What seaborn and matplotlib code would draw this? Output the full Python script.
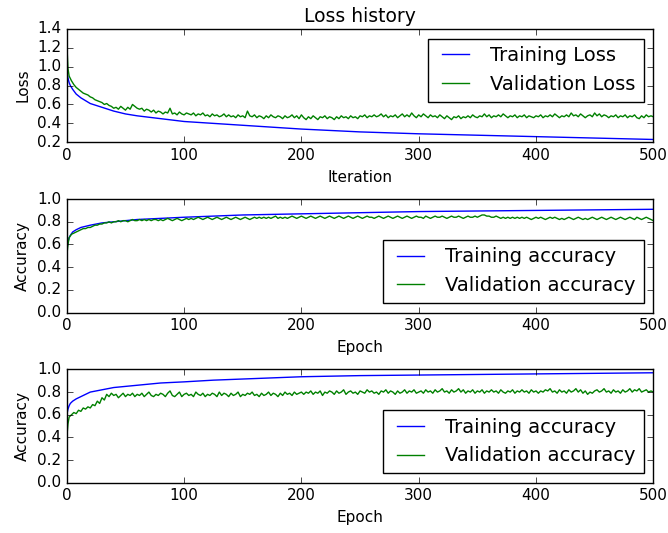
import matplotlib
matplotlib.use('Agg')
import matplotlib.pyplot as plt
import seaborn as sns

# epochs for the smooth training curves and for the noisy validation curves
epochs_train = [0, 1, 2, 3, 5, 8, 12, 16, 20, 25, 30, 40, 50, 60, 80, 100,
                125, 150, 175, 200, 250, 300, 350, 400, 450, 500]
epochs_val = [0, 1] + list(range(2, 501, 2))

train_loss = [0.95, 0.88, 0.83, 0.80, 0.76, 0.71, 0.67, 0.64, 0.61, 0.59,
              0.57, 0.53, 0.50, 0.48, 0.45, 0.42, 0.40, 0.38, 0.36, 0.34,
              0.31, 0.29, 0.275, 0.26, 0.245, 0.23]

val_loss = [1.25, 0.98,
            0.90, 0.85, 0.81, 0.78, 0.76, 0.74, 0.72, 0.71, 0.70, 0.68,
            0.67, 0.65, 0.64, 0.63, 0.62, 0.60, 0.61, 0.59, 0.58, 0.56,
            0.57, 0.55, 0.58, 0.56, 0.54, 0.57, 0.55, 0.60, 0.58, 0.56,
            0.55, 0.56, 0.53, 0.55, 0.54, 0.52, 0.54, 0.51, 0.53, 0.52,
            0.50, 0.52, 0.51, 0.56, 0.50, 0.51, 0.49, 0.52, 0.50, 0.49,

            0.51, 0.50, 0.49, 0.51, 0.48, 0.50, 0.49, 0.51, 0.48, 0.49,
            0.47, 0.50, 0.48, 0.49, 0.47, 0.48, 0.50, 0.47, 0.49, 0.47,
            0.48, 0.46, 0.49, 0.47, 0.48, 0.46, 0.53, 0.48, 0.47, 0.49,
            0.46, 0.48, 0.47, 0.45, 0.48, 0.46, 0.49, 0.47, 0.46, 0.48,
            0.47, 0.45, 0.48, 0.46, 0.47, 0.49, 0.46, 0.48, 0.45, 0.49,

            0.46, 0.44, 0.47, 0.45, 0.48, 0.46, 0.44, 0.47, 0.46, 0.48,
            0.45, 0.47, 0.46, 0.44, 0.47, 0.45, 0.48, 0.46, 0.47, 0.45,
            0.48, 0.46, 0.47, 0.45, 0.48, 0.47, 0.49, 0.46, 0.48, 0.47,
            0.49, 0.47, 0.48, 0.50, 0.47, 0.49, 0.46, 0.48, 0.47, 0.49,
            0.46, 0.48, 0.50, 0.47, 0.49, 0.47, 0.51, 0.48, 0.46, 0.49,

            0.47, 0.50, 0.48, 0.46, 0.49, 0.47, 0.48, 0.46, 0.49, 0.47,
            0.45, 0.48, 0.46, 0.44, 0.47, 0.46, 0.48, 0.45, 0.47, 0.46,
            0.48, 0.46, 0.49, 0.47, 0.46, 0.48, 0.47, 0.50, 0.47, 0.49,
            0.46, 0.48, 0.47, 0.49, 0.47, 0.50, 0.48, 0.46, 0.48, 0.47,
            0.49, 0.46, 0.48, 0.47, 0.49, 0.46, 0.48, 0.47, 0.46, 0.48,

            0.47, 0.49, 0.46, 0.48, 0.47, 0.49, 0.47, 0.50, 0.48, 0.46,
            0.48, 0.47, 0.49, 0.47, 0.51, 0.48, 0.49, 0.47, 0.50, 0.48,
            0.46, 0.48, 0.49, 0.47, 0.51, 0.48, 0.50, 0.47, 0.49, 0.48,
            0.46, 0.48, 0.47, 0.49, 0.46, 0.48, 0.47, 0.49, 0.46, 0.48,
            0.47, 0.49, 0.46, 0.45, 0.48, 0.46, 0.49, 0.47, 0.48, 0.47]

train_acc_1 = [0.55, 0.62, 0.66, 0.68, 0.71, 0.73, 0.75, 0.76, 0.77, 0.78,
               0.79, 0.80, 0.81, 0.82, 0.83, 0.84, 0.85, 0.86, 0.865, 0.87,
               0.88, 0.89, 0.895, 0.90, 0.905, 0.91]

val_acc_1 = [0.50, 0.60,
             0.66, 0.69, 0.70, 0.71, 0.72, 0.73, 0.74, 0.74, 0.75, 0.75,
             0.76, 0.77, 0.77, 0.78, 0.78, 0.79, 0.79, 0.80, 0.79, 0.80,
             0.80, 0.81, 0.80, 0.81, 0.81, 0.80, 0.81, 0.82, 0.81, 0.81,
             0.82, 0.81, 0.82, 0.81, 0.82, 0.81, 0.82, 0.82, 0.81, 0.82,
             0.81, 0.82, 0.83, 0.82, 0.81, 0.82, 0.83, 0.82, 0.81, 0.82,

             0.83, 0.82, 0.83, 0.82, 0.83, 0.84, 0.83, 0.82, 0.83, 0.84,
             0.83, 0.82, 0.83, 0.84, 0.83, 0.82, 0.83, 0.84, 0.83, 0.82,
             0.83, 0.84, 0.83, 0.82, 0.83, 0.84, 0.83, 0.82, 0.83, 0.84,
             0.83, 0.84, 0.83, 0.84, 0.83, 0.84, 0.83, 0.84, 0.85, 0.83,
             0.84, 0.83, 0.84, 0.83, 0.84, 0.85, 0.84, 0.83, 0.84, 0.85,

             0.84, 0.83, 0.84, 0.85, 0.84, 0.83, 0.84, 0.85, 0.84, 0.83,
             0.84, 0.85, 0.84, 0.83, 0.84, 0.85, 0.84, 0.83, 0.84, 0.85,
             0.84, 0.83, 0.84, 0.85, 0.84, 0.83, 0.84, 0.85, 0.84, 0.84,
             0.83, 0.84, 0.85, 0.84, 0.83, 0.84, 0.85, 0.84, 0.83, 0.84,
             0.85, 0.84, 0.83, 0.84, 0.85, 0.84, 0.83, 0.84, 0.85, 0.84,

             0.84, 0.83, 0.85, 0.84, 0.83, 0.84, 0.85, 0.84, 0.84, 0.85,
             0.84, 0.83, 0.84, 0.85, 0.84, 0.84, 0.85, 0.84, 0.83, 0.84,
             0.85, 0.84, 0.84, 0.85, 0.84, 0.85, 0.86, 0.86, 0.85, 0.85,
             0.84, 0.84, 0.85, 0.84, 0.83, 0.84, 0.83, 0.84, 0.83, 0.84,
             0.83, 0.84, 0.83, 0.84, 0.83, 0.84, 0.83, 0.82, 0.83, 0.84,

             0.83, 0.84, 0.83, 0.82, 0.83, 0.84, 0.83, 0.84, 0.83, 0.82,
             0.83, 0.82, 0.83, 0.84, 0.83, 0.82, 0.83, 0.84, 0.83, 0.82,
             0.83, 0.82, 0.83, 0.84, 0.83, 0.82, 0.83, 0.84, 0.83, 0.82,
             0.83, 0.84, 0.83, 0.82, 0.83, 0.84, 0.83, 0.82, 0.83, 0.84,
             0.83, 0.82, 0.84, 0.83, 0.82, 0.83, 0.84, 0.83, 0.82, 0.81]

train_acc_2 = [0.60, 0.65, 0.68, 0.70, 0.72, 0.74, 0.76, 0.78, 0.80, 0.81,
               0.82, 0.84, 0.85, 0.86, 0.88, 0.89, 0.905, 0.915, 0.925, 0.935,
               0.945, 0.95, 0.955, 0.96, 0.965, 0.97]

val_acc_2 = [0.40, 0.52,
             0.58, 0.60, 0.62, 0.61, 0.64, 0.63, 0.66, 0.65, 0.67, 0.66,
             0.69, 0.68, 0.72, 0.70, 0.75, 0.73, 0.78, 0.76, 0.79, 0.77,
             0.78, 0.75, 0.77, 0.79, 0.76, 0.78, 0.77, 0.79, 0.76, 0.78,
             0.77, 0.79, 0.76, 0.78, 0.80, 0.77, 0.76, 0.78, 0.77, 0.79,
             0.78, 0.76, 0.79, 0.81, 0.77, 0.76, 0.78, 0.80, 0.76, 0.78,

             0.79, 0.77, 0.78, 0.76, 0.80, 0.78, 0.77, 0.79, 0.76, 0.78,
             0.77, 0.79, 0.78, 0.76, 0.80, 0.77, 0.79, 0.78, 0.76, 0.79,
             0.77, 0.78, 0.80, 0.76, 0.78, 0.77, 0.79, 0.78, 0.80, 0.77,
             0.78, 0.76, 0.79, 0.77, 0.78, 0.80, 0.77, 0.79, 0.78, 0.76,
             0.79, 0.77, 0.80, 0.78, 0.79, 0.77, 0.80, 0.78, 0.79, 0.80,

             0.78, 0.80, 0.79, 0.81, 0.78, 0.80, 0.79, 0.81, 0.77, 0.80,
             0.79, 0.81, 0.80, 0.78, 0.81, 0.79, 0.80, 0.82, 0.78, 0.80,
             0.81, 0.79, 0.80, 0.78, 0.81, 0.80, 0.79, 0.82, 0.80, 0.81,
             0.79, 0.80, 0.78, 0.81, 0.80, 0.82, 0.79, 0.81, 0.80, 0.78,
             0.81, 0.79, 0.80, 0.82, 0.79, 0.81, 0.80, 0.82, 0.79, 0.80,

             0.81, 0.79, 0.82, 0.80, 0.81, 0.79, 0.82, 0.80, 0.81, 0.83,
             0.80, 0.81, 0.79, 0.82, 0.80, 0.81, 0.83, 0.80, 0.82, 0.79,
             0.81, 0.80, 0.82, 0.79, 0.81, 0.80, 0.82, 0.79, 0.81, 0.80,
             0.82, 0.80, 0.81, 0.79, 0.82, 0.80, 0.79, 0.81, 0.80, 0.82,
             0.79, 0.81, 0.80, 0.82, 0.80, 0.81, 0.79, 0.82, 0.80, 0.81,

             0.79, 0.81, 0.80, 0.82, 0.81, 0.83, 0.80, 0.81, 0.79, 0.82,
             0.80, 0.81, 0.79, 0.82, 0.80, 0.81, 0.83, 0.80, 0.82, 0.79,
             0.81, 0.78, 0.80, 0.79, 0.81, 0.82, 0.80, 0.81, 0.83, 0.80,
             0.81, 0.79, 0.82, 0.80, 0.81, 0.79, 0.82, 0.80, 0.81, 0.83,
             0.80, 0.82, 0.81, 0.83, 0.80, 0.81, 0.82, 0.80, 0.81, 0.80]

x_ticks = [0, 100, 200, 300, 400, 500]

# old matplotlib look: ticks inside on all sides, pure b/g colours
plt.style.use('classic')
plt.rcParams['figure.facecolor'] = 'white'
plt.rcParams['savefig.facecolor'] = 'white'
plt.rcParams['font.family'] = ['DejaVu Sans']
plt.rcParams['xtick.labelsize'] = 11
plt.rcParams['ytick.labelsize'] = 11
plt.rcParams['axes.labelsize'] = 11
plt.rcParams['legend.fontsize'] = 14

fig, axes = plt.subplots(3, 1, figsize=(6.68, 5.33), dpi=100)
fig.subplots_adjust(left=0.100, right=0.978, top=0.946, bottom=0.094, hspace=0.5)

# loss
ax = axes[0]
sns.lineplot(x=epochs_train, y=train_loss, color='b', lw=1, label='Training Loss', ax=ax)
sns.lineplot(x=epochs_val, y=val_loss, color='g', lw=1, label='Validation Loss', ax=ax)
ax.set_title('Loss history', fontsize=13.5)
ax.set_xlabel('Iteration')
ax.set_ylabel('Loss')
ax.set_xlim(0, 500)
ax.set_ylim(0.2, 1.4)
ax.set_xticks(x_ticks)
ax.set_yticks([0.2, 0.4, 0.6, 0.8, 1.0, 1.2, 1.4])
ax.legend(loc='upper right')

# two accuracy panels
acc_sets = [(train_acc_1, val_acc_1), (train_acc_2, val_acc_2)]
for ax, (tr, va) in zip(axes[1:], acc_sets):
    sns.lineplot(x=epochs_train, y=tr, color='b', lw=1, label='Training accuracy', ax=ax)
    sns.lineplot(x=epochs_val, y=va, color='g', lw=1, label='Validation accuracy', ax=ax)
    ax.set_xlabel('Epoch')
    ax.set_ylabel('Accuracy')
    ax.set_xlim(0, 500)
    ax.set_ylim(0, 1.0)
    ax.set_xticks(x_ticks)
    ax.set_yticks([0.0, 0.2, 0.4, 0.6, 0.8, 1.0])
    ax.legend(loc='lower right')

fig.savefig('out.png', dpi=100)
